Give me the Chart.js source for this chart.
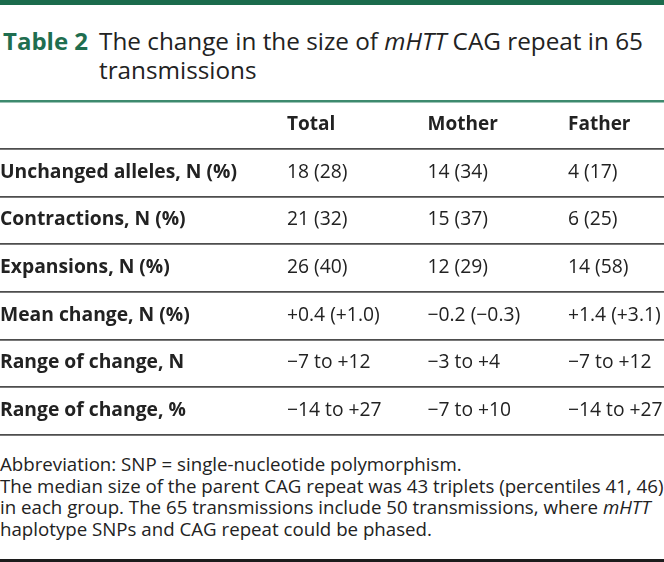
<!DOCTYPE html>
<html>
<head>
<meta charset="utf-8">
<script src="https://cdn.jsdelivr.net/npm/chart.js@4.4.1/dist/chart.umd.min.js"></script>
<style>
  html, body { margin: 0; padding: 0; background: #fff; }
  body { width: 664px; height: 562px; position: relative; overflow: hidden; font-family: "Open Sans", sans-serif; color: #222; }
  #topbar { position: absolute; left: 0; top: 0; width: 664px; height: 5px; background: #1b6b4c; }
  #tlabel { position: absolute; left: 3px; top: 26px; font-size: 24px; line-height: 29px; font-weight: 700; color: #1f6e50; white-space: nowrap; }
  #ttext { position: absolute; left: 99px; top: 26px; font-size: 24.3px; line-height: 29px; color: #222; white-space: nowrap; }
  #wrap { position: absolute; left: 0; top: 90px; width: 664px; height: 356px; }
  #foot { position: absolute; left: 0; top: 453px; font-size: 18.7px; line-height: 21.6px; color: #222; white-space: nowrap; }
  #botbar { position: absolute; left: 0; top: 559px; width: 664px; height: 3px; background: #1c1c1c; }
</style>
</head>
<body>
<div id="topbar"></div>
<div id="tlabel">Table 2</div>
<div id="ttext">The change in the size of <i>mHTT</i> CAG repeat in 65<br>transmissions</div>
<div id="wrap"><canvas id="c" width="664" height="356"></canvas></div>
<div id="foot">Abbreviation: SNP = single-nucleotide polymorphism.<br>The median size of the parent CAG repeat was 43 triplets (percentiles 41, 46)<br>in each group. The 65 transmissions include 50 transmissions, where <i>mHTT</i><br>haplotype SNPs and CAG repeat could be phased.</div>
<div id="botbar"></div>
<script>
// ---- data ----
const columns = ['Total', 'Mother', 'Father'];
const rowLabels = [
  'Unchanged alleles, N (%)',
  'Contractions, N (%)',
  'Expansions, N (%)',
  'Mean change, N (%)',
  'Range of change, N',
  'Range of change, %'
];
const totalCells  = ['18 (28)', '21 (32)', '26 (40)', '+0.4 (+1.0)', '\u22127 to +12', '\u221214 to +27'];
const motherCells = ['14 (34)', '15 (37)', '12 (29)', '\u22120.2 (\u22120.3)', '\u22123 to +4', '\u22127 to +10'];
const fatherCells = ['4 (17)', '6 (25)', '14 (58)', '+1.4 (+3.1)', '\u22127 to +12', '\u221214 to +27'];

const columnCells = [totalCells, motherCells, fatherCells];
const yLabels = ['header'].concat(rowLabels);

const FONT = '"Open Sans", sans-serif';
const TEXT = '#222222';

const datasets = columns.map((name, ci) => ({
  label: name,
  data: columnCells[ci].map((cell, ri) => ({ x: ci + 1, y: rowLabels[ri], text: cell })),
  pointRadius: 0,
  pointHoverRadius: 0,
  showLine: false
}));

const tablePlugin = {
  id: 'tableText',
  afterDatasetsDraw(chart) {
    const ctx = chart.ctx;
    const xs = chart.scales.x, ys = chart.scales.y;
    const base = 5;
    ctx.save();
    ctx.fillStyle = TEXT;
    ctx.textAlign = 'left';
    ctx.textBaseline = 'alphabetic';
    // header row
    ctx.font = 'bold 19px ' + FONT;
    const hy = ys.getPixelForValue(0) + base;
    columns.forEach((name, ci) => {
      ctx.fillText(name, xs.getPixelForValue(ci + 1), hy);
    });
    // row labels
    ctx.font = 'bold 19.3px ' + FONT;
    rowLabels.forEach((lab, ri) => {
      ctx.fillText(lab, chart.chartArea.left, ys.getPixelForValue(ri + 1) + base);
    });
    // cells
    ctx.font = '19.3px ' + FONT;
    chart.data.datasets.forEach((ds, di) => {
      const meta = chart.getDatasetMeta(di);
      meta.data.forEach((pt, i) => {
        ctx.fillText(ds.data[i].text, pt.x, pt.y + base);
      });
    });
    ctx.restore();
  }
};

new Chart(document.getElementById('c'), {
  type: 'scatter',
  data: { labels: yLabels, datasets },
  options: {
    responsive: false,
    animation: false,
    events: [],
    layout: { padding: { top: 11, bottom: 11, left: 0, right: 0 } },
    plugins: { legend: { display: false }, tooltip: { enabled: false }, title: { display: false } },
    scales: {
      x: {
        type: 'linear',
        display: false,
        min: 1 - 287 / 140.5,
        max: 1 - 287 / 140.5 + 664 / 140.5
      },
      y: {
        type: 'category',
        labels: yLabels,
        offset: true,
        display: true,
        border: { display: false },
        ticks: { display: false },
        grid: {
          offset: true,
          drawTicks: false,
          color: (c) => c.index === 0 ? '#3d8a6e' : '#4d4d4d',
          lineWidth: (c) => c.index === 0 ? 2.5 : 1.8
        }
      }
    }
  },
  plugins: [tablePlugin]
});
</script>
</body>
</html>
